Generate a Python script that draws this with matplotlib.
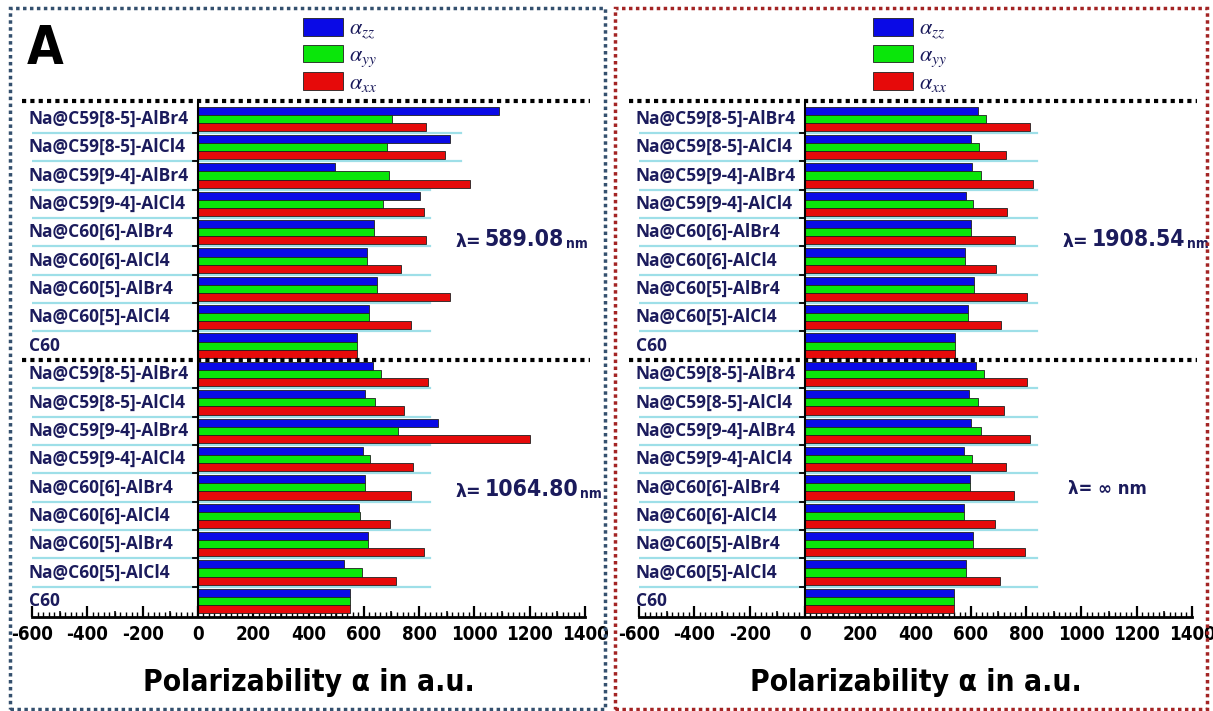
import numpy as np
import matplotlib.pyplot as plt
from matplotlib.patches import Rectangle
from matplotlib.ticker import MultipleLocator
from matplotlib.transforms import blended_transform_factory
from matplotlib import font_manager

plt.rcParams['mathtext.fontset'] = 'stix'
plt.rcParams['axes.unicode_minus'] = False

# ---- data: polarizability components (a.u.) ----
categories = ["Na@C59[8-5]-AlBr4", "Na@C59[8-5]-AlCl4", "Na@C59[9-4]-AlBr4",
              "Na@C59[9-4]-AlCl4", "Na@C60[6]-AlBr4", "Na@C60[6]-AlCl4",
              "Na@C60[5]-AlBr4", "Na@C60[5]-AlCl4", "C60"]

zz_589 = [1088, 912, 495, 805, 636, 611, 646, 618, 577]
yy_589 = [703, 685, 692, 668, 636, 611, 646, 618, 577]
xx_589 = [826, 893, 983, 816, 826, 734, 912, 771, 577]

zz_1064 = [632, 606, 868, 597, 606, 581, 616, 530, 549]
yy_1064 = [663, 642, 725, 621, 606, 585, 616, 592, 549]
xx_1064 = [833, 746, 1202, 778, 770, 695, 817, 716, 549]

zz_1908 = [625, 599, 606, 581, 602, 580, 612, 589, 544]
yy_1908 = [656, 631, 636, 609, 602, 580, 612, 589, 544]
xx_1908 = [814, 729, 824, 731, 761, 690, 802, 710, 544]

zz_inf = [619, 594, 602, 575, 598, 575, 609, 581, 541]
yy_inf = [648, 625, 636, 604, 598, 575, 609, 584, 541]
xx_inf = [805, 720, 815, 726, 757, 686, 796, 705, 541]

series_labels = [r'$\alpha_{zz}$', r'$\alpha_{yy}$', r'$\alpha_{xx}$']
series_colors = ['#0a0ae6', '#0ae60a', '#e60a0a']

# a condensed face for the numeric labels
NARROW = font_manager.FontProperties(family='DejaVu Sans', stretch='condensed',
                                     weight='bold')
NAVY = '#1b1b5c'

W, H = 1213, 711
fig = plt.figure(figsize=(W / 100, H / 100), dpi=100)
fig.patch.set_facecolor('white')


def narrow(size):
    fp = NARROW.copy()
    fp.set_size(size)
    return fp


def px_axes(x0, x1, y0, y1):
    return fig.add_axes([x0 / W, 1 - y1 / H, (x1 - x0) / W, (y1 - y0) / H])


def lam_label(x, y, number):
    t1 = fig.text(x / W, 1 - y / H, "λ=", fontsize=12.5, fontweight='bold',
                  color=NAVY, family='DejaVu Sans', va='baseline')
    a = plt.annotate(number, xy=(1, 0), xycoords=t1, xytext=(2, 0),
                     textcoords='offset points', fontproperties=narrow(16.5),
                     color=NAVY, va='bottom', ha='left')
    plt.annotate("nm", xy=(1, 0), xycoords=a, xytext=(1.5, 0),
                 textcoords='offset points', fontproperties=narrow(10),
                 color=NAVY, va='bottom', ha='left')


def draw_panel(x0, x1, top, bottom, legend_x, cyan_ends):
    ax = px_axes(x0, x1, 101, 617)
    ax.set_facecolor('none')
    y = np.arange(18)
    h = 0.286
    handles = []
    for k in range(3):
        vals = list(top[k]) + list(bottom[k])
        b = ax.barh(y + (k - 1) * h, vals, height=h, color=series_colors[k],
                    edgecolor='#202020', linewidth=0.6, zorder=3)
        handles.append(b)

    ax.set_xlim(-600, 1400)
    ax.set_ylim(17.57, -0.628)

    # light separators between compounds
    for i in range(18):
        if i in (8, 17):
            continue
        ax.plot([-600, cyan_ends.get(i, 840)], [i + 0.5, i + 0.5],
                color='#9edfe8', lw=1.6, zorder=1)
        ax.plot([-18, 0], [i + 0.5, i + 0.5], color='black', lw=1.3, zorder=4)

    # dotted section dividers
    for yd in (-0.628, 8.51):
        ax.plot([-636, 1418], [yd, yd], color='black', ls=(0, (1, 1)), lw=3,
                clip_on=False, zorder=5)

    ax.axvline(0, color='black', lw=1.5, zorder=4)

    for i, name in enumerate(categories * 2):
        ax.text(-612, i, name, ha='left', va='center', fontsize=12.5,
                fontweight='bold', color=NAVY, family='Open Sans')

    for s in ('left', 'right', 'top'):
        ax.spines[s].set_visible(False)
    ax.spines['bottom'].set_linewidth(2)
    ax.set_yticks([])
    ax.set_xticks(np.arange(-600, 1401, 200))
    ax.xaxis.set_minor_locator(MultipleLocator(20))
    ax.tick_params(axis='x', which='major', direction='in', length=8, width=1.6,
                   pad=6)
    ax.tick_params(axis='x', which='minor', direction='in', length=3.5, width=1)
    for lab in ax.get_xticklabels():
        lab.set_fontproperties(narrow(13.5))
    # mid-length ticks at the odd hundreds
    trans = blended_transform_factory(ax.transData, ax.transAxes)
    ax.vlines(np.arange(-500, 1400, 200), 0, 0.011, transform=trans,
              color='black', lw=1.1, clip_on=False)

    ax.set_xlabel("Polarizability α in a.u.", fontproperties=narrow(21.5),
                  labelpad=17)

    fig.legend(handles, series_labels, loc='center',
               bbox_to_anchor=(legend_x / W, 1 - 56 / H),
               bbox_transform=fig.transFigure, frameon=False, fontsize=16,
               handlelength=1.8, handleheight=0.85, labelspacing=0.15,
               handletextpad=0.3, labelcolor=NAVY, borderpad=0.2)
    return ax


ax_left = draw_panel(32, 585, (zz_589, yy_589, xx_589),
                     (zz_1064, yy_1064, xx_1064), 340, {0: 950, 1: 950})
ax_right = draw_panel(639, 1192, (zz_1908, yy_1908, xx_1908),
                      (zz_inf, yy_inf, xx_inf), 910, {})

lam_label(456, 247, "589.08")
lam_label(456, 497, "1064.80")
lam_label(1063, 247, "1908.54")
fig.text(1068 / W, 1 - 494 / H, "λ= ∞ nm", fontsize=12, fontweight='bold',
         color=NAVY, family='DejaVu Sans', va='baseline')

fig.text(27 / W, 1 - 64 / H, "A", fontproperties=narrow(38), va='baseline')

# dotted frames around both panels
fig.patches.append(Rectangle((10 / W, 1 - 709 / H), 595 / W, 701 / H,
                             transform=fig.transFigure, fill=False,
                             ls=(0, (1, 1)), lw=2.5, ec='#34506e'))
fig.patches.append(Rectangle((615 / W, 1 - 709 / H), 592 / W, 701 / H,
                             transform=fig.transFigure, fill=False,
                             ls=(0, (1, 1)), lw=2.5, ec='#a32424'))

fig.savefig('out.png', dpi=100)
